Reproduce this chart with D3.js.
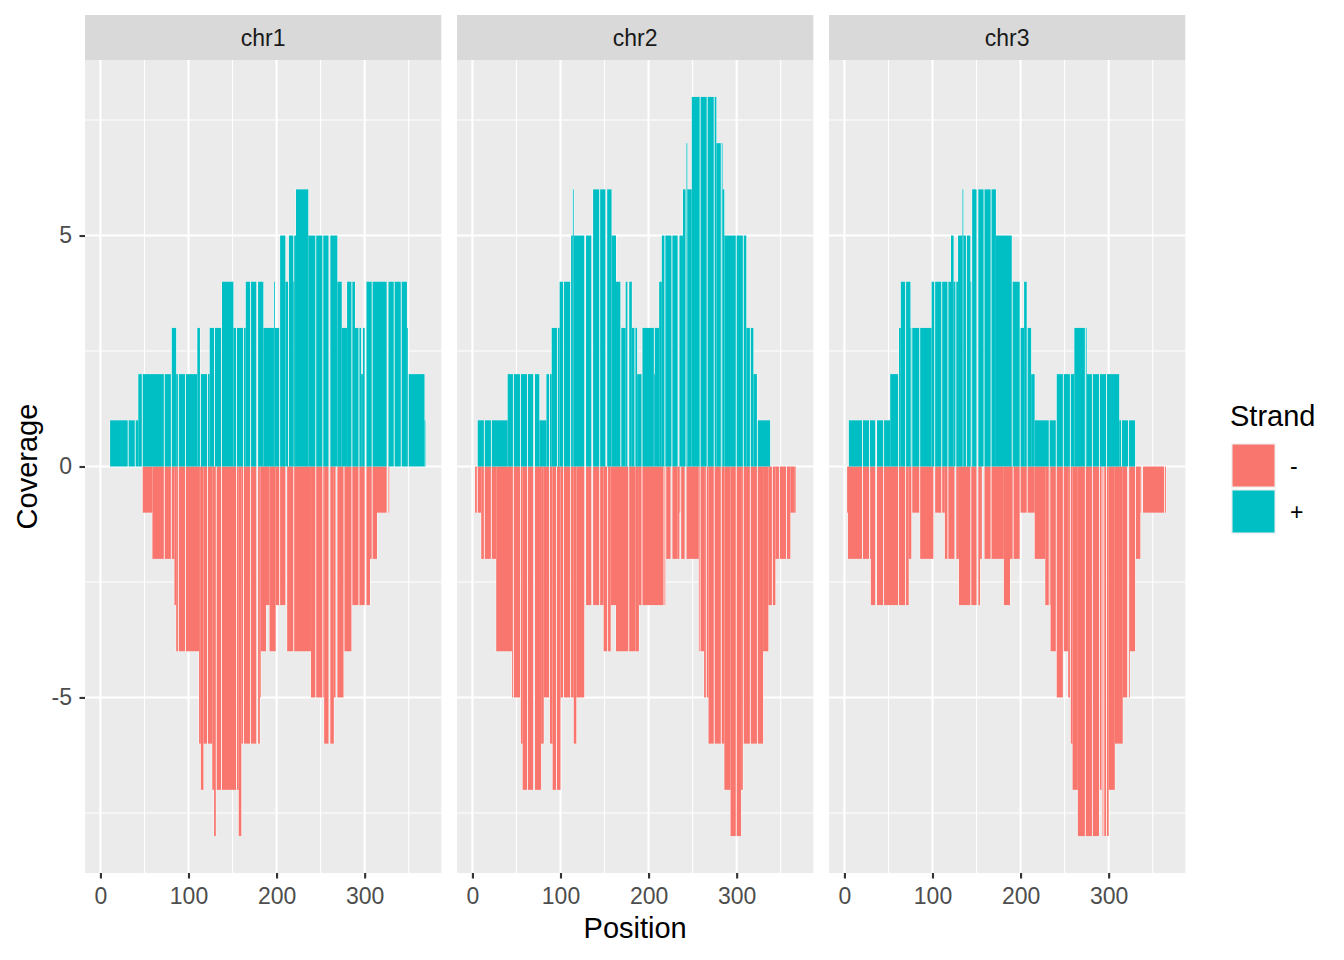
<!DOCTYPE html>
<html><head><meta charset="utf-8">
<script src="https://cdn.jsdelivr.net/npm/d3@7"></script>
<style>body{margin:0;background:#fff}text{font-family:"Liberation Sans",Arial,Helvetica,sans-serif}</style>
</head><body>
<svg id="c" width="1344" height="960"></svg>
<script>
const chromosomes = ["chr1", "chr2", "chr3"];
const strandLabels = ["-", "+"];
const strandColors = ["#F8766D", "#00BFC4"];
const xTicks = [0, 100, 200, 300];
const xMinor = [50, 150, 250, 350];
const yTicks = [-5, 0, 5];
const yMinor = [-7.5, -2.5, 2.5, 7.5];

// [start, end, coverage]
const chr1Plus = [[11,31,1],[32,39,1],[40,43,1],[43,47,2],[48,72,2],[73,80,2],[81,86,3],[86,88,2],[89,96,2],[97,110,2],[110,113,3],[114,121,2],[122,124,2],[124,129,3],[130,137,3],[138,151,4],[151,154,3],[155,162,3],[163,165,3],[165,170,4],[171,177,4],[179,185,4],[185,197,3],[197,198,4],[198,203,3],[204,210,5],[210,213,4],[214,219,5],[219,220,4],[220,222,5],[222,236,6],[236,244,5],[245,252,5],[253,259,5],[261,269,5],[269,274,4],[274,280,3],[280,285,4],[286,289,4],[289,293,3],[294,296,3],[296,298,2],[298,300,3],[302,308,4],[309,325,4],[327,333,4],[334,341,4],[342,348,4],[348,349,3],[350,368,2],[368,369,1]];
const chr1Minus = [[48,59,-1],[59,72,-2],[73,80,-2],[81,84,-2],[84,86,-3],[86,88,-4],[89,96,-4],[97,112,-4],[112,114,-6],[114,117,-7],[117,121,-6],[122,127,-6],[127,129,-7],[129,131,-8],[132,137,-7],[138,154,-7],[155,157,-7],[157,160,-8],[160,162,-6],[163,170,-6],[171,177,-6],[179,181,-6],[181,182,-5],[182,188,-4],[188,192,-3],[192,199,-4],[199,203,-3],[204,210,-3],[212,219,-4],[220,239,-4],[239,244,-5],[245,252,-5],[253,254,-5],[254,259,-6],[261,265,-6],[265,267,-5],[269,276,-5],[277,285,-4],[286,293,-3],[294,300,-3],[302,306,-3],[306,308,-2],[309,314,-2],[314,325,-1],[327,328,-1]];
const chr2Plus = [[6,13,1],[14,21,1],[22,40,1],[40,46,2],[47,54,2],[55,62,2],[63,69,2],[71,76,2],[76,84,1],[84,87,2],[88,90,2],[90,96,3],[97,99,3],[99,103,4],[104,111,4],[112,114,5],[114,115,6],[115,127,5],[129,135,5],[137,144,6],[145,151,6],[153,158,6],[158,163,5],[163,168,4],[169,174,3],[174,176,4],[178,181,4],[181,184,3],[185,187,3],[187,192,2],[193,206,3],[206,207,2],[207,212,3],[212,215,4],[215,218,5],[219,226,5],[227,233,5],[235,239,5],[239,242,6],[243,244,7],[244,249,6],[249,258,8],[259,266,8],[267,274,8],[275,277,8],[277,282,7],[283,284,7],[284,286,6],[286,299,5],[300,307,5],[308,311,5],[311,315,3],[316,319,3],[319,323,2],[324,338,1]];
const chr2Minus = [[3,5,-1],[6,10,-1],[10,13,-2],[14,21,-2],[22,27,-2],[27,45,-4],[45,46,-5],[47,54,-5],[55,57,-6],[57,62,-7],[63,69,-7],[71,78,-7],[78,81,-6],[81,87,-5],[88,91,-6],[91,95,-7],[96,100,-7],[100,103,-5],[104,111,-5],[112,115,-5],[115,118,-6],[118,127,-5],[129,135,-3],[137,144,-3],[145,149,-3],[149,153,-4],[154,157,-4],[157,163,-3],[163,177,-4],[178,185,-4],[185,189,-4],[189,192,-3],[193,217,-3],[218,219,-3],[220,225,-2],[227,233,-2],[233,235,-2],[235,236,-1],[237,241,-2],[243,257,-2],[257,258,-4],[259,263,-4],[263,265,-5],[266,268,-5],[268,274,-6],[275,282,-6],[283,286,-6],[286,293,-7],[293,299,-8],[300,305,-8],[305,307,-7],[308,315,-6],[316,323,-6],[324,330,-6],[330,336,-4],[336,340,-3],[341,344,-3],[344,348,-2],[349,356,-2],[357,361,-2],[361,366,-1],[366,367,-1]];
const chr3Plus = [[5,20,1],[21,28,1],[29,35,1],[37,44,1],[45,52,1],[52,61,2],[62,64,3],[64,69,4],[70,75,4],[75,76,3],[77,85,3],[86,99,3],[99,102,4],[103,110,4],[111,117,4],[118,121,4],[121,124,5],[124,126,4],[127,129,4],[129,134,5],[134,135,6],[135,138,5],[139,143,5],[143,144,4],[145,150,6],[152,158,6],[159,166,6],[167,172,6],[172,190,5],[191,199,4],[200,204,3],[204,207,4],[208,212,3],[212,216,2],[216,232,1],[233,240,1],[241,248,2],[249,256,2],[257,261,2],[261,273,3],[274,275,3],[275,281,2],[282,289,2],[290,297,2],[298,312,2],[312,314,1],[315,322,1],[323,330,1]];
const chr3Minus = [[3,4,-1],[4,20,-2],[21,28,-2],[29,30,-2],[30,35,-3],[37,44,-3],[45,61,-3],[62,69,-3],[70,73,-3],[73,76,-2],[77,85,-1],[86,101,-2],[103,110,-1],[111,114,-1],[114,117,-2],[118,125,-2],[127,130,-2],[130,143,-3],[144,150,-3],[152,154,-3],[154,156,-2],[159,166,-2],[167,181,-2],[181,188,-3],[188,191,-2],[192,199,-2],[200,207,-1],[208,216,-1],[216,228,-2],[228,232,-3],[233,234,-3],[234,240,-4],[241,248,-5],[249,254,-4],[254,256,-5],[257,259,-6],[259,265,-7],[265,273,-8],[274,281,-8],[282,289,-8],[290,292,-7],[293,294,-8],[295,297,-8],[298,300,-8],[300,307,-7],[307,314,-6],[314,316,-6],[316,321,-5],[323,324,-5],[324,330,-4],[331,336,-2],[336,337,-1],[339,363,-1],[364,365,-1]];

const panelData = {
  chr1: [chr1Minus, chr1Plus],
  chr2: [chr2Minus, chr2Plus],
  chr3: [chr3Minus, chr3Plus]
};

const svg = d3.select("#c");
svg.append("rect").attr("width", 1344).attr("height", 960).attr("fill", "#fff");

const panelW = 356.3, panelGap = 15.7, left0 = 85, plotTop = 60, plotBottom = 873;
const stripTop = 15, stripH = 45;
const majorW = 2.13, minorW = 1.07;

const x = d3.scaleLinear().domain([-17.5, 387]).range([0, panelW]);
const y = d3.scaleLinear().domain([-8.8, 8.8]).range([plotBottom, plotTop]);

chromosomes.forEach((chr, i) => {
  const g = svg.append("g").attr("transform", `translate(${left0 + i * (panelW + panelGap)},0)`);
  g.append("rect").attr("x", 0).attr("y", stripTop).attr("width", panelW).attr("height", stripH).attr("fill", "#D9D9D9");
  g.append("text").attr("x", panelW / 2).attr("y", stripTop + stripH / 2).attr("dy", "0.35em")
    .attr("text-anchor", "middle").attr("font-size", 23).attr("fill", "#1A1A1A").text(chr);
  g.append("rect").attr("x", 0).attr("y", plotTop).attr("width", panelW).attr("height", plotBottom - plotTop).attr("fill", "#EBEBEB");
  g.append("g").selectAll("line").data(yMinor).join("line").attr("x1", 0).attr("x2", panelW)
    .attr("y1", d => y(d)).attr("y2", d => y(d)).attr("stroke", "#fff").attr("stroke-width", minorW);
  g.append("g").selectAll("line").data(xMinor).join("line").attr("y1", plotTop).attr("y2", plotBottom)
    .attr("x1", d => x(d)).attr("x2", d => x(d)).attr("stroke", "#fff").attr("stroke-width", minorW);
  g.append("g").selectAll("line").data(yTicks).join("line").attr("x1", 0).attr("x2", panelW)
    .attr("y1", d => y(d)).attr("y2", d => y(d)).attr("stroke", "#fff").attr("stroke-width", majorW);
  g.append("g").selectAll("line").data(xTicks).join("line").attr("y1", plotTop).attr("y2", plotBottom)
    .attr("x1", d => x(d)).attr("x2", d => x(d)).attr("stroke", "#fff").attr("stroke-width", majorW);

  panelData[chr].forEach((segs) => {
    g.append("g").selectAll("rect").data(segs).join("rect")
      .attr("x", d => x(d[0]) - 0.45).attr("width", d => x(d[1]) - x(d[0]) + 0.9)
      .attr("y", d => Math.min(y(d[2]), y(0))).attr("height", d => Math.abs(y(d[2]) - y(0)))
      .attr("fill", "#fff");
  });
  panelData[chr].forEach((segs, si) => {
    g.append("g").selectAll("rect").data(segs).join("rect")
      .attr("x", d => x(d[0])).attr("width", d => x(d[1]) - x(d[0]))
      .attr("y", d => Math.min(y(d[2]), y(0))).attr("height", d => Math.abs(y(d[2]) - y(0)))
      .attr("fill", strandColors[si]);
  });

  const ax = g.append("g").attr("transform", `translate(0,${plotBottom})`)
    .call(d3.axisBottom(x).tickValues(xTicks).tickSize(5.5).tickPadding(9.5));
  ax.select(".domain").remove();
  ax.selectAll("line").attr("stroke", "#333333").attr("stroke-width", majorW);
  ax.selectAll("text").attr("fill", "#4D4D4D").attr("font-size", 23)
    .attr("font-family", "Liberation Sans, Arial, sans-serif");

  if (i === 0) {
    const ay = g.append("g").call(d3.axisLeft(y).tickValues(yTicks).tickSize(5.5).tickPadding(7.5)
      .tickFormat(d => String(d)));
    ay.select(".domain").remove();
    ay.selectAll("line").attr("stroke", "#333333").attr("stroke-width", majorW);
    ay.selectAll("text").attr("fill", "#4D4D4D").attr("font-size", 23)
      .attr("font-family", "Liberation Sans, Arial, sans-serif");
  }
});

const totalRight = left0 + 3 * panelW + 2 * panelGap;
svg.append("text").attr("x", (left0 + totalRight) / 2).attr("y", 938)
  .attr("text-anchor", "middle").attr("font-size", 29).attr("fill", "#000").text("Position");
svg.append("text").attr("transform", `translate(37,${(plotTop + plotBottom) / 2}) rotate(-90)`)
  .attr("text-anchor", "middle").attr("font-size", 29).attr("fill", "#000").text("Coverage");

const lg = svg.append("g");
lg.append("text").attr("x", 1230).attr("y", 425.5).attr("font-size", 29).attr("fill", "#000").text("Strand");
strandLabels.forEach((lab, k) => {
  const ky = 443 + k * 46;
  lg.append("rect").attr("x", 1231).attr("y", ky).attr("width", 45).attr("height", 45).attr("fill", "#F2F2F2");
  lg.append("rect").attr("x", 1232.5).attr("y", ky + 1.5).attr("width", 42).attr("height", 42).attr("fill", strandColors[k]);
  lg.append("text").attr("x", 1290).attr("y", ky + 22.5).attr("dy", "0.35em")
    .attr("font-size", 23).attr("fill", "#000").text(lab);
});
</script>
</body></html>
